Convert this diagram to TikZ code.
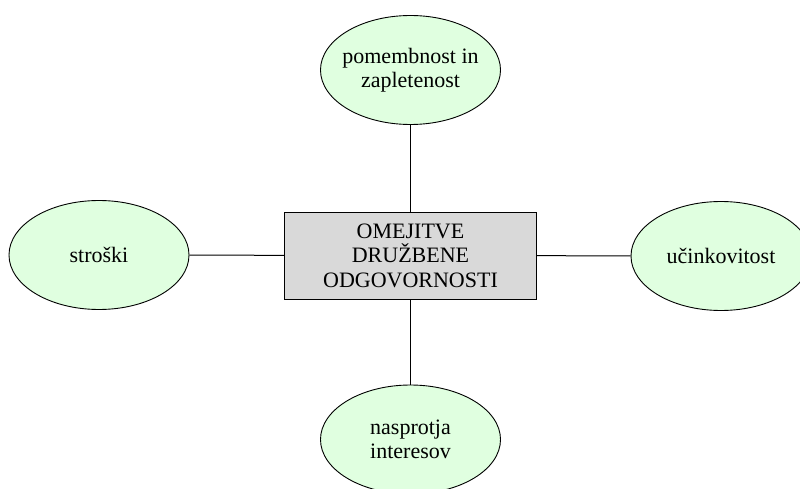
\documentclass[tikz,border=0pt]{standalone}
\usepackage{fontspec}
\setmainfont{Liberation Serif}
\usetikzlibrary{shapes.geometric}
\definecolor{bubble}{RGB}{224,255,224}
\definecolor{core}{RGB}{217,217,217}
\tikzset{
  every node/.style={font=\fontsize{22}{24.5}\selectfont, align=center, text=black},
  topic/.style={ellipse, draw=black, line width=0.9pt, fill=bubble,
    minimum width=180pt, minimum height=109pt, inner xsep=-14pt, inner ysep=0pt},
  centre/.style={rectangle, draw=black, line width=1pt, fill=core,
    minimum width=252pt, minimum height=87pt, inner sep=0pt},
  link/.style={draw=black, line width=1pt}
}
\begin{document}
\begin{tikzpicture}[x=1pt, y=-1pt]
  \clip (0,0) rectangle (800,489);
  \fill[white] (0,0) rectangle (800,489);
  \node[centre] (c) at (410.5,255.5) {OMEJITVE\\DRUŽBENE\\ODGOVORNOSTI};
  \node[topic] (t) at (410.5,70) {pomembnost in\\zapletenost};
  \node[topic] (l) at (99,255) {stroški};
  \node[topic] (r) at (721,256) {učinkovitost};
  \node[topic] (b) at (410.5,439.5) {nasprotja\\interesov};
  \draw[link] (t) -- (c);
  \draw[link] (b) -- (c);
  \draw[link] (l) -- (c);
  \draw[link] (r) -- (c);
\end{tikzpicture}
\end{document}
